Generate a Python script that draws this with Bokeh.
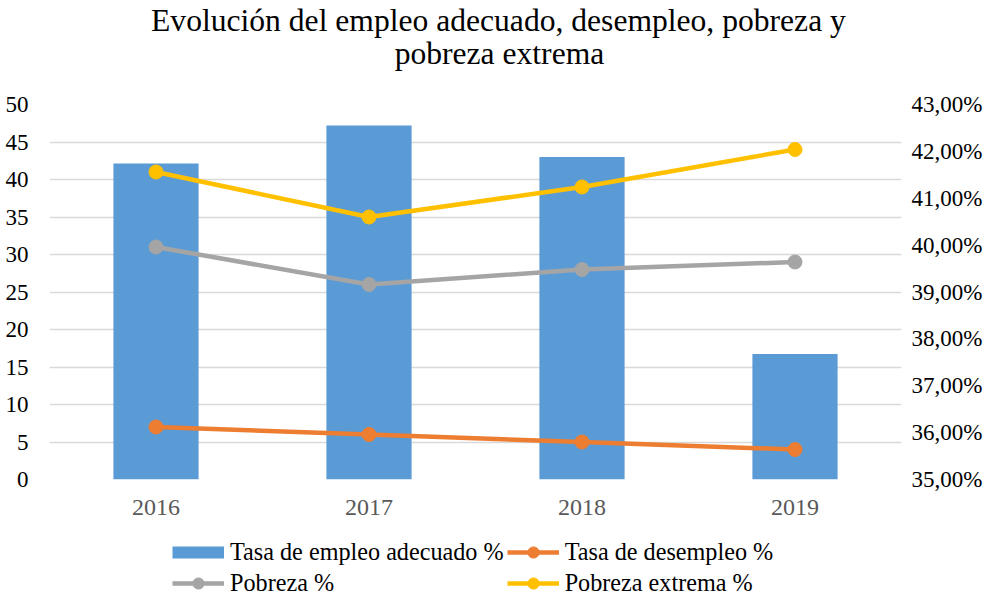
from bokeh.plotting import figure
from bokeh.layouts import column
from bokeh.models import (FactorRange, Range1d, LinearAxis, FixedTicker, Label,
                          Legend, LegendItem, CustomJSTickFormatter, ColumnDataSource)
from bokeh.embed import file_html
from bokeh.resources import INLINE

# ---------------- data ----------------
years = ["2016", "2017", "2018", "2019"]
empleo_adecuado = [41.74, 42.55, 41.88, 37.68]   # % (right axis)
desempleo = [7, 6, 5, 4]
pobreza = [31, 26, 28, 29]
pobreza_extrema = [41, 35, 39, 44]
left_ticks = [0, 5, 10, 15, 20, 25, 30, 35, 40, 45, 50]
right_ticks = [35, 36, 37, 38, 39, 40, 41, 42, 43]

title_line1 = "Evolución del empleo adecuado, desempleo, pobreza y"
title_line2 = "pobreza extrema"
labels = ["Tasa de empleo adecuado %", "Tasa de desempleo %", "Pobreza %", "Pobreza extrema %"]

BLUE, ORANGE, GRAY, YELLOW = "#5B9BD5", "#ED7D31", "#A5A5A5", "#FFC000"
FONT = "Liberation Serif"
NAN = float("nan")
W = 985
BL, BR = 49, 82          # left / right borders shared by the stacked strips

# ---------------- title strip ----------------
TH = 88
tt = figure(width=W, height=TH, output_backend="svg", toolbar_location=None,
            x_range=Range1d(BL, W - BR), y_range=Range1d(0, TH),
            x_axis_type=None, y_axis_type=None,
            min_border_left=BL, min_border_right=BR, min_border_top=0, min_border_bottom=0)
tt.outline_line_color = None
tt.grid.visible = False
tt.add_layout(Label(x=499, y=TH - 20, text=title_line1, text_align="center",
                    text_baseline="alphabetic", text_font=FONT, text_font_size="31.6px",
                    text_color="black"))
tt.add_layout(Label(x=500, y=TH - 53, text=title_line2, text_align="center",
                    text_baseline="alphabetic", text_font=FONT, text_font_size="31.6px",
                    text_color="black"))

# ---------------- main chart ----------------
src = ColumnDataSource(dict(x=years, emp=empleo_adecuado, des=desempleo,
                            pob=pobreza, ext=pobreza_extrema))

TOP, BOT = 16, 48
p = figure(x_range=FactorRange(*years), y_range=Range1d(0, 50),
           width=W, height=TOP + 375 + BOT, output_backend="svg", toolbar_location=None,
           title=None, min_border_left=BL, min_border_right=BR,
           min_border_top=TOP, min_border_bottom=BOT)
p.extra_y_ranges = {"pct": Range1d(35, 43)}
p.outline_line_color = None

# bars on secondary axis
p.vbar(x="x", top="emp", bottom=35, width=0.4, source=src,
       fill_color=BLUE, line_color=None, y_range_name="pct")

for col, color in [("des", ORANGE), ("pob", GRAY), ("ext", YELLOW)]:
    p.line("x", col, source=src, line_color=color, line_width=4.5)
    p.scatter("x", col, source=src, size=14, fill_color=color, line_color=color)

p.yaxis.ticker = FixedTicker(ticks=left_ticks)
p.yaxis.major_label_text_font = FONT
p.yaxis.major_label_text_font_size = "23px"
p.yaxis.major_label_text_color = "black"
p.yaxis.major_label_standoff = 21

ax_r = LinearAxis(y_range_name="pct", ticker=FixedTicker(ticks=right_ticks),
                  formatter=CustomJSTickFormatter(code="return tick.toFixed(2).replace('.', ',') + '%';"))
ax_r.major_label_text_font = FONT
ax_r.major_label_text_font_size = "23px"
ax_r.major_label_text_color = "black"
ax_r.major_label_standoff = 10
p.add_layout(ax_r, "right")

p.xaxis.major_label_text_font = FONT
p.xaxis.major_label_text_font_size = "24px"
p.xaxis.major_label_text_color = "#595959"
p.xaxis.major_label_standoff = 20

for ax in [p.xaxis[0], p.yaxis[0], ax_r]:
    ax.axis_line_color = None
    ax.major_tick_line_color = None
    ax.minor_tick_line_color = None
    ax.major_tick_out = 0
    ax.major_tick_in = 0

p.xgrid.grid_line_color = None
p.ygrid.ticker = FixedTicker(ticks=left_ticks)
p.ygrid.grid_line_color = "#D9D9D9"
p.ygrid.grid_line_width = 1.5

# ---------------- legend strip ----------------
LH = 597 - TH - (TOP + 375 + BOT)
lg = figure(width=W, height=LH, output_backend="svg", toolbar_location=None,
            x_range=Range1d(0, 1), y_range=Range1d(0, 1), x_axis_type=None, y_axis_type=None,
            min_border_left=BL, min_border_right=BR, min_border_top=0, min_border_bottom=0)
lg.outline_line_color = None
lg.grid.visible = False

k_emp = lg.line(x=[NAN], y=[NAN], line_color=BLUE, line_width=12, line_cap="butt")
items = [LegendItem(label=labels[0], renderers=[k_emp])]
for lab, color in zip(labels[1:], [ORANGE, GRAY, YELLOW]):
    kl = lg.line(x=[NAN], y=[NAN], line_color=color, line_width=4.5)
    ks = lg.scatter(x=[NAN], y=[NAN], size=12, fill_color=color, line_color=color)
    items.append(LegendItem(label=lab, renderers=[kl, ks]))

legend = Legend(items=items, location=(172 - BL, 0), orientation="horizontal", ncols=2,
                glyph_width=52, glyph_height=28, label_standoff=6, spacing=3,
                padding=0, margin=0, border_line_color=None, background_fill_alpha=0,
                label_text_font=FONT, label_text_font_size="24.2px", label_text_color="black")
lg.add_layout(legend, "center")

layout = column(tt, p, lg, spacing=0)
open("out.html", "w").write(file_html(layout, INLINE))
